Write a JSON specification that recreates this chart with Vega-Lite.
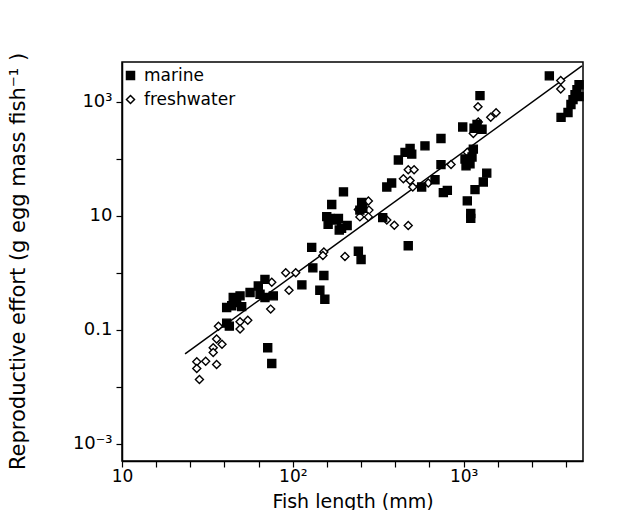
{
  "$schema": "https://vega.github.io/schema/vega-lite/v6.json",
  "width": 461,
  "height": 399,
  "autosize": {"type": "none"},
  "padding": {"left": 122, "top": 62, "right": 59, "bottom": 49},
  "background": "white",
  "config": {
    "view": {"stroke": "black", "strokeWidth": 1.5},
    "font": "DejaVu Sans",
    "axis": {
      "grid": false,
      "domainColor": "black",
      "domainWidth": 1.5,
      "tickColor": "black",
      "tickWidth": 1.2,
      "tickSize": 6,
      "labelFont": "DejaVu Sans",
      "labelFontSize": 18,
      "labelColor": "black",
      "titleFont": "DejaVu Sans",
      "titleFontSize": 20,
      "titleFontWeight": "normal",
      "titleColor": "black"
    },
    "legend": {"padding": 0}
  },
  "datasets": {
    "pts": [
      {"type": "freshwater", "length": 28.4, "effort": 0.0135},
      {"type": "freshwater", "length": 27.4, "effort": 0.0275},
      {"type": "freshwater", "length": 27.4, "effort": 0.021},
      {"type": "freshwater", "length": 30.9, "effort": 0.0282},
      {"type": "freshwater", "length": 35.8, "effort": 0.0247},
      {"type": "freshwater", "length": 34.2, "effort": 0.0486},
      {"type": "freshwater", "length": 34.2, "effort": 0.0402},
      {"type": "freshwater", "length": 38.5, "effort": 0.0557},
      {"type": "freshwater", "length": 35.8, "effort": 0.0689},
      {"type": "freshwater", "length": 36.7, "effort": 0.116},
      {"type": "freshwater", "length": 49.1, "effort": 0.139},
      {"type": "freshwater", "length": 54.5, "effort": 0.147},
      {"type": "freshwater", "length": 49.1, "effort": 0.103},
      {"type": "freshwater", "length": 74.2, "effort": 0.231},
      {"type": "freshwater", "length": 75.3, "effort": 0.686},
      {"type": "freshwater", "length": 90.9, "effort": 1.0},
      {"type": "freshwater", "length": 104, "effort": 1.0},
      {"type": "freshwater", "length": 95.0, "effort": 0.494},
      {"type": "freshwater", "length": 152, "effort": 2.32},
      {"type": "freshwater", "length": 150, "effort": 2.02},
      {"type": "freshwater", "length": 202, "effort": 1.94},
      {"type": "freshwater", "length": 277, "effort": 18.2},
      {"type": "freshwater", "length": 279, "effort": 12.6},
      {"type": "freshwater", "length": 247, "effort": 9.59},
      {"type": "freshwater", "length": 277, "effort": 9.59},
      {"type": "freshwater", "length": 242, "effort": 12.9},
      {"type": "freshwater", "length": 355, "effort": 8.43},
      {"type": "freshwater", "length": 393, "effort": 6.83},
      {"type": "freshwater", "length": 474, "effort": 6.75},
      {"type": "freshwater", "length": 474, "effort": 64.1},
      {"type": "freshwater", "length": 513, "effort": 64.1},
      {"type": "freshwater", "length": 444, "effort": 44.7},
      {"type": "freshwater", "length": 486, "effort": 41.8},
      {"type": "freshwater", "length": 504, "effort": 32.1},
      {"type": "freshwater", "length": 621, "effort": 37.7},
      {"type": "freshwater", "length": 844, "effort": 79.2},
      {"type": "freshwater", "length": 1051, "effort": 130},
      {"type": "freshwater", "length": 1214, "effort": 818},
      {"type": "freshwater", "length": 1549, "effort": 643},
      {"type": "freshwater", "length": 1441, "effort": 539},
      {"type": "freshwater", "length": 1219, "effort": 442},
      {"type": "freshwater", "length": 1140, "effort": 278},
      {"type": "freshwater", "length": 3703, "effort": 2366},
      {"type": "freshwater", "length": 3703, "effort": 1679},
      {"type": "marine", "length": 3176, "effort": 2856},
      {"type": "marine", "length": 4740, "effort": 1995},
      {"type": "marine", "length": 4610, "effort": 1633},
      {"type": "marine", "length": 4490, "effort": 1337},
      {"type": "marine", "length": 4370, "effort": 1094},
      {"type": "marine", "length": 4250, "effort": 897},
      {"type": "marine", "length": 4740, "effort": 1234},
      {"type": "marine", "length": 4085, "effort": 651},
      {"type": "marine", "length": 3720, "effort": 533},
      {"type": "marine", "length": 1247, "effort": 1285},
      {"type": "marine", "length": 988, "effort": 362},
      {"type": "marine", "length": 1198, "effort": 403},
      {"type": "marine", "length": 1282, "effort": 330},
      {"type": "marine", "length": 1151, "effort": 344},
      {"type": "marine", "length": 737, "effort": 228},
      {"type": "marine", "length": 594, "effort": 169},
      {"type": "marine", "length": 486, "effort": 152},
      {"type": "marine", "length": 454, "effort": 130},
      {"type": "marine", "length": 415, "effort": 95.5},
      {"type": "marine", "length": 497, "effort": 121},
      {"type": "marine", "length": 1140, "effort": 148},
      {"type": "marine", "length": 1019, "effort": 99.5},
      {"type": "marine", "length": 1090, "effort": 81.5},
      {"type": "marine", "length": 1033, "effort": 75.2},
      {"type": "marine", "length": 1120, "effort": 108},
      {"type": "marine", "length": 737, "effort": 79.2},
      {"type": "marine", "length": 1366, "effort": 56.1},
      {"type": "marine", "length": 1304, "effort": 39.2},
      {"type": "marine", "length": 1166, "effort": 28.8},
      {"type": "marine", "length": 1051, "effort": 18.3},
      {"type": "marine", "length": 1101, "effort": 11.0},
      {"type": "marine", "length": 1101, "effort": 9.04},
      {"type": "marine", "length": 568, "effort": 32.1},
      {"type": "marine", "length": 680, "effort": 42.9},
      {"type": "marine", "length": 761, "effort": 25.5},
      {"type": "marine", "length": 803, "effort": 28.0},
      {"type": "marine", "length": 355, "effort": 32.1},
      {"type": "marine", "length": 379, "effort": 37.7},
      {"type": "marine", "length": 198, "effort": 26.3},
      {"type": "marine", "length": 253, "effort": 17.1},
      {"type": "marine", "length": 257, "effort": 13.5},
      {"type": "marine", "length": 247, "effort": 12.6},
      {"type": "marine", "length": 336, "effort": 9.29},
      {"type": "marine", "length": 474, "effort": 2.99},
      {"type": "marine", "length": 169, "effort": 15.8},
      {"type": "marine", "length": 158, "effort": 9.67},
      {"type": "marine", "length": 165, "effort": 9.04},
      {"type": "marine", "length": 185, "effort": 9.04},
      {"type": "marine", "length": 161, "effort": 7.11},
      {"type": "marine", "length": 193, "effort": 6.05},
      {"type": "marine", "length": 208, "effort": 6.75},
      {"type": "marine", "length": 187, "effort": 5.66},
      {"type": "marine", "length": 181, "effort": 8.43},
      {"type": "marine", "length": 129, "effort": 2.8},
      {"type": "marine", "length": 242, "effort": 2.39},
      {"type": "marine", "length": 251, "effort": 1.71},
      {"type": "marine", "length": 131, "effort": 1.22},
      {"type": "marine", "length": 152, "effort": 0.9},
      {"type": "marine", "length": 144, "effort": 0.494},
      {"type": "marine", "length": 154, "effort": 0.345},
      {"type": "marine", "length": 113, "effort": 0.614},
      {"type": "marine", "length": 68.7, "effort": 0.767},
      {"type": "marine", "length": 62.8, "effort": 0.589},
      {"type": "marine", "length": 56.2, "effort": 0.451},
      {"type": "marine", "length": 64.3, "effort": 0.421},
      {"type": "marine", "length": 68.7, "effort": 0.369},
      {"type": "marine", "length": 76.9, "effort": 0.395},
      {"type": "marine", "length": 44.8, "effort": 0.369},
      {"type": "marine", "length": 49.1, "effort": 0.395},
      {"type": "marine", "length": 46.9, "effort": 0.302},
      {"type": "marine", "length": 41.0, "effort": 0.247},
      {"type": "marine", "length": 50.2, "effort": 0.255},
      {"type": "marine", "length": 43.9, "effort": 0.265},
      {"type": "marine", "length": 41.0, "effort": 0.131},
      {"type": "marine", "length": 42.5, "effort": 0.116},
      {"type": "marine", "length": 71.3, "effort": 0.0486},
      {"type": "marine", "length": 75.3, "effort": 0.0256}
    ],
    "fit": [
      {"length": 23.4, "effort": 0.0378},
      {"length": 4930, "effort": 4270}
    ]
  },
  "layer": [
    {
      "data": {"name": "fit"},
      "mark": {"type": "line", "color": "black", "strokeWidth": 1.5},
      "encoding": {
        "x": {"field": "length", "type": "quantitative", "scale": {"type": "log", "domain": [10, 5000], "nice": false}},
        "y": {"field": "effort", "type": "quantitative", "scale": {"type": "log", "domain": [0.0005, 5000], "nice": false}}
      }
    },
    {
      "data": {"name": "pts"},
      "mark": {"type": "point", "filled": false, "stroke": "black", "strokeWidth": 1.4, "size": 64, "opacity": 1},
      "encoding": {
        "x": {
          "field": "length", "type": "quantitative",
          "scale": {"type": "log", "domain": [10, 5000], "nice": false},
          "axis": {
            "title": "Fish length (mm)",
            "titleFontSize": 19,
            "labelFontSize": 17,
            "values": [10, 15.85, 25.12, 39.81, 63.1, 100, 158.5, 251.2, 398.1, 631, 1000, 1585, 2512, 3981],
            "labelExpr": "datum.value == 10 ? '10' : datum.value == 100 ? '10²' : datum.value == 1000 ? '10³' : ''",
            "labelFlush": false,
            "labelPadding": 1,
            "titleBaseline": "alphabetic",
            "titleY": 46
          }
        },
        "y": {
          "field": "effort", "type": "quantitative",
          "scale": {"type": "log", "domain": [0.0005, 5000], "nice": false},
          "axis": {
            "title": "Reproductive effort (g egg mass fish⁻¹ )",
            "titleFontSize": 21,
            "values": [0.001, 0.01, 0.1, 1, 10, 100, 1000],
            "labelExpr": "datum.value == 1000 ? '10³' : datum.value == 10 ? '10' : datum.value == 0.1 ? '0.1' : datum.value == 0.001 ? '10⁻³' : ''",
            "labelFlush": false,
            "labelPadding": 4,
            "titleX": -94,
            "titleY": 199
          }
        },
        "shape": {
          "field": "type", "type": "nominal",
          "scale": {"domain": ["marine", "freshwater"], "range": ["square", "diamond"]},
          "legend": {
            "title": null, "orient": "none", "legendX": 0, "legendY": 5,
            "labelFontSize": 17, "labelFont": "DejaVu Sans", "labelColor": "black",
            "symbolSize": 64, "rowPadding": 6, "labelOffset": 5,
            "encode": {"symbols": {"update": {"stroke": {"value": "black"}, "strokeWidth": {"value": 1.4}}}}
          }
        },
        "fill": {
          "field": "type", "type": "nominal",
          "scale": {"domain": ["marine", "freshwater"], "range": ["black", "white"]},
          "legend": {
            "title": null, "orient": "none", "legendX": 0, "legendY": 5,
            "labelFontSize": 17, "labelFont": "DejaVu Sans", "labelColor": "black",
            "symbolSize": 64, "rowPadding": 6, "labelOffset": 5,
            "encode": {"symbols": {"update": {"stroke": {"value": "black"}, "strokeWidth": {"value": 1.4}}}}
          }
        }
      }
    }
  ]
}
